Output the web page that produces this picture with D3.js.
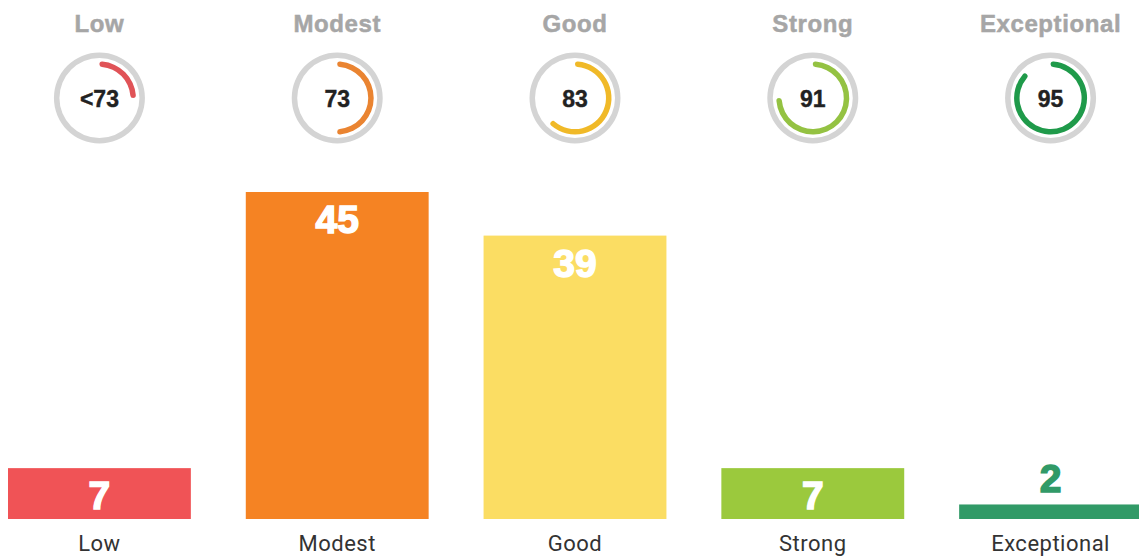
<!DOCTYPE html>
<html><head><meta charset="utf-8">
<script src="https://cdn.jsdelivr.net/npm/d3@7"></script>
<style>html,body{margin:0;padding:0;background:#fff;}svg{display:block;}</style>
</head><body>
<svg id="chart" width="1139" height="556"></svg>
<script>
const categories = ["Low","Modest","Good","Strong","Exceptional"];
const counts = [7,45,39,7,2];
const gaugeLabels = ["<73","73","83","91","95"];
const gaugeFractions = [0.25,0.5,0.625,0.75,0.875];
const barColors = ["#f05356","#f58323","#fbdd63","#9bc93d","#319a67"];
const arcColors = ["#e05357","#ea8431","#f0b928","#94c242","#1f9a4a"];

const svg = d3.select("#chart");
const baseY = 519;
const x = d3.scaleBand().domain(categories).range([8,1142]).paddingInner(0.231).paddingOuter(0);
const y = d3.scaleLinear().domain([0,45]).range([baseY, 192]);

// bars
svg.selectAll("rect.bar").data(categories).join("rect")
  .attr("class","bar")
  .attr("x", d=>x(d)).attr("width", x.bandwidth())
  .attr("y", (d,i)=>y(counts[i])).attr("height",(d,i)=>baseY-y(counts[i]))
  .attr("fill",(d,i)=>barColors[i]);

// bar value labels
const small = i => (baseY - y(counts[i])) < 40;
svg.selectAll("text.val").data(categories).join("text")
  .attr("class","val")
  .attr("x", d=>x(d)+x.bandwidth()/2)
  .attr("y", (d,i)=> small(i) ? y(counts[i])-12 : y(counts[i])+41)
  .attr("text-anchor","middle")
  .attr("font-family","'Liberation Sans', Arial, sans-serif")
  .attr("font-weight","bold")
  .attr("font-size",39)
  .attr("fill",(d,i)=> small(i) ? barColors[i] : "#fff")
  .attr("stroke",(d,i)=> small(i) ? barColors[i] : "#fff")
  .attr("stroke-width",1.5)
  .text((d,i)=>counts[i]);

// bottom category labels
svg.selectAll("text.cat").data(categories).join("text")
  .attr("class","cat")
  .attr("x", d=>x(d)+x.bandwidth()/2)
  .attr("y", 551)
  .attr("text-anchor","middle")
  .attr("font-family","Roboto, sans-serif")
  .attr("font-size",22)
  .attr("letter-spacing",0.5)
  .attr("fill","#333")
  .text(d=>d);

// top labels
svg.selectAll("text.top").data(categories).join("text")
  .attr("class","top")
  .attr("x", d=>x(d)+x.bandwidth()/2)
  .attr("y", 32)
  .attr("text-anchor","middle")
  .attr("font-family","'Liberation Sans', Arial, sans-serif")
  .attr("font-weight","bold")
  .attr("font-size",24)
  .attr("letter-spacing",0.6)
  .attr("fill","#a6a6a6")
  .attr("stroke","#a6a6a6")
  .attr("stroke-width",0.5)
  .text(d=>d);

// gauges
const gcy = 98;
const ringArc = d3.arc().innerRadius(40).outerRadius(45.5).startAngle(0).endAngle(2*Math.PI);
const valArc = d3.arc().innerRadius(31).outerRadius(36.5).startAngle(0).cornerRadius(2.75);
const g = svg.selectAll("g.gauge").data(categories).join("g")
  .attr("class","gauge")
  .attr("transform", d=>`translate(${x(d)+x.bandwidth()/2},${gcy})`);
g.append("path").attr("d", ringArc()).attr("fill","#d4d4d4");
g.append("path").attr("d",(d,i)=>valArc({endAngle: gaugeFractions[i]*2*Math.PI})).attr("fill",(d,i)=>arcColors[i]);
g.append("text")
  .attr("y", 9)
  .attr("text-anchor","middle")
  .attr("font-family","'Liberation Sans', Arial, sans-serif")
  .attr("font-weight","bold")
  .attr("font-size",23)
  .attr("fill","#222")
  .attr("stroke","#222")
  .attr("stroke-width",0.4)
  .text((d,i)=>gaugeLabels[i]);
</script>
</body></html>
